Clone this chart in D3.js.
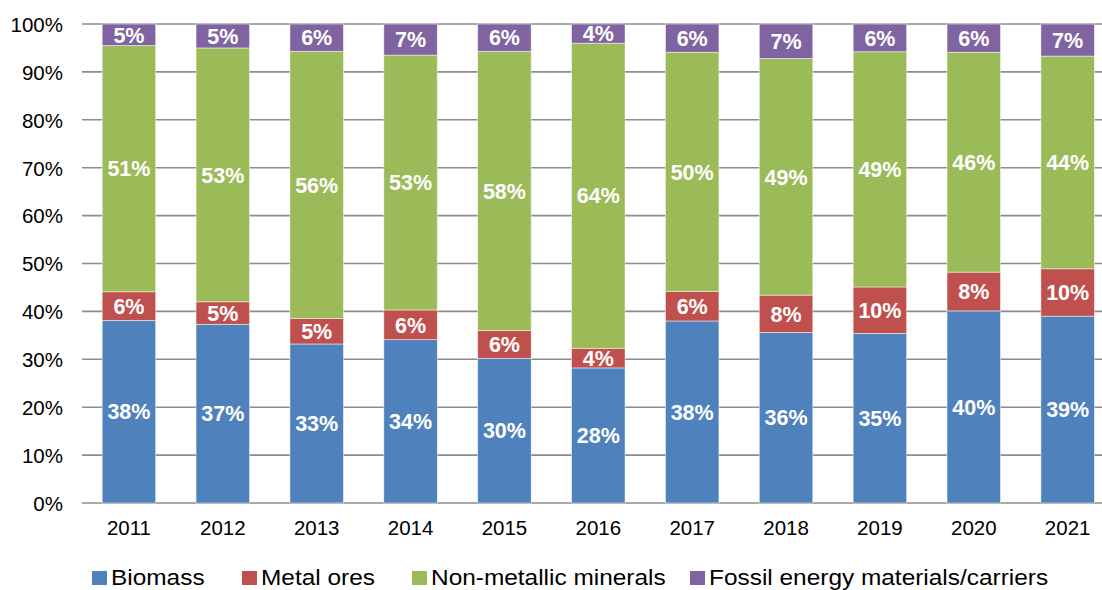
<!DOCTYPE html>
<html>
<head>
<meta charset="utf-8">
<script src="https://cdn.jsdelivr.net/npm/d3@7"></script>
<style>
  html, body { margin: 0; padding: 0; background: #fff; }
  #chart { width: 1102px; height: 590px; }
  text { font-family: "Liberation Sans", Arial, sans-serif; }
</style>
</head>
<body>
<div id="chart"></div>
<script>
// 数据：各年份材料构成（%）
const years = ['2011', '2012', '2013', '2014', '2015', '2016', '2017', '2018', '2019', '2020', '2021'];
const biomass = [38.1, 37.3, 33.2, 34.1, 30.2, 28.2, 38.0, 35.6, 35.4, 40.1, 39.0];
const metalOres = [6.0, 4.7, 5.3, 6.2, 5.8, 4.1, 6.2, 7.8, 9.7, 8.1, 9.9];
const nonMetallic = [51.4, 53.0, 55.8, 53.2, 58.3, 63.7, 49.9, 49.4, 49.1, 45.9, 44.4];
const fossil = [4.5, 5.0, 5.7, 6.5, 5.7, 4.0, 5.9, 7.2, 5.8, 5.9, 6.7];
const seriesNames = ['Biomass', 'Metal ores', 'Non-metallic minerals', 'Fossil energy materials/carriers'];
const seriesColors = ['#4F81BD', '#C0504D', '#9BBB59', '#8064A2'];
const yTicks = [0, 10, 20, 30, 40, 50, 60, 70, 80, 90, 100];

function drawChart() {
    const width = 1102;
    const height = 590;

    const svg = d3.select('#chart')
        .append('svg')
        .attr('width', width)
        .attr('height', height);

    // 组装堆叠表格
    const keys = ['biomass', 'metal', 'nonmet', 'fossil'];
    const table = years.map((y, i) => ({
        year: y,
        biomass: biomass[i],
        metal: metalOres[i],
        nonmet: nonMetallic[i],
        fossil: fossil[i]
    }));
    const stacked = d3.stack().keys(keys)(table);

    const x = d3.scaleBand()
        .domain(years)
        .range([82, 1114.6])
        .paddingInner(0.43)
        .paddingOuter(0.215);

    const y = d3.scaleLinear()
        .domain([0, 100])
        .range([503, 24]);

    // 网格线
    svg.append('g')
        .selectAll('line')
        .data(yTicks)
        .join('line')
        .attr('x1', 82)
        .attr('x2', width)
        .attr('y1', d => y(d))
        .attr('y2', d => y(d))
        .attr('stroke', '#8c8c8c')
        .attr('stroke-width', 1.6);

    // Y轴刻度
    const yAxis = d3.axisLeft(y)
        .tickValues(yTicks)
        .tickSize(0)
        .tickPadding(0)
        .tickFormat(d => d + '%');
    const yg = svg.append('g')
        .attr('transform', 'translate(63,0)')
        .call(yAxis);
    yg.select('.domain').remove();
    yg.selectAll('text')
        .attr('font-size', 20.5)
        .attr('fill', '#000')
        .attr('dy', '0.36em')
        .style('font-family', '"Liberation Sans", Arial, sans-serif');

    // X轴刻度
    const xAxis = d3.axisBottom(x).tickSize(0).tickPadding(0);
    const xg = svg.append('g')
        .attr('transform', 'translate(0,535)')
        .call(xAxis);
    xg.select('.domain').remove();
    xg.selectAll('text')
        .attr('font-size', 20.5)
        .attr('fill', '#000')
        .attr('dy', 0)
        .style('font-family', '"Liberation Sans", Arial, sans-serif');

    // 柱子
    const layers = svg.append('g')
        .selectAll('g')
        .data(stacked)
        .join('g')
        .attr('fill', (d, i) => seriesColors[i]);

    layers.selectAll('rect')
        .data(d => d)
        .join('rect')
        .attr('x', d => x(d.data.year))
        .attr('width', x.bandwidth())
        .attr('y', d => y(d[1]))
        .attr('height', d => y(d[0]) - y(d[1]))
        .attr('stroke', 'rgba(255,255,255,0.6)')
        .attr('stroke-width', 0.8);

    // 数据标签
    layers.selectAll('text')
        .data(d => d.map(v => ({ v, key: d.key })))
        .join('text')
        .attr('x', d => x(d.v.data.year) + x.bandwidth() / 2)
        .attr('y', d => (y(d.v[0]) + y(d.v[1])) / 2)
        .attr('dy', '0.36em')
        .attr('text-anchor', 'middle')
        .attr('fill', '#fff')
        .attr('font-weight', 'bold')
        .attr('font-size', 21.5)
        .text(d => Math.round(d.v[1] - d.v[0]) + '%');

    // 图例
    const legendX = [92, 242, 412, 690];
    const legend = svg.append('g')
        .selectAll('g')
        .data(seriesNames)
        .join('g')
        .attr('transform', (d, i) => `translate(${legendX[i]},0)`);

    legend.append('rect')
        .attr('x', 0)
        .attr('y', 571)
        .attr('width', 15)
        .attr('height', 14)
        .attr('fill', (d, i) => seriesColors[i]);

    legend.append('text')
        .attr('x', 19)
        .attr('y', 585)
        .attr('font-size', 22.5)
        .attr('fill', '#000')
        .text(d => d)
        .each(function() {
            // 参考图的图例字体略宽
            const w = this.getComputedTextLength();
            d3.select(this)
                .attr('textLength', w * 1.085)
                .attr('lengthAdjust', 'spacingAndGlyphs');
        });
}

drawChart();
</script>
</body>
</html>
